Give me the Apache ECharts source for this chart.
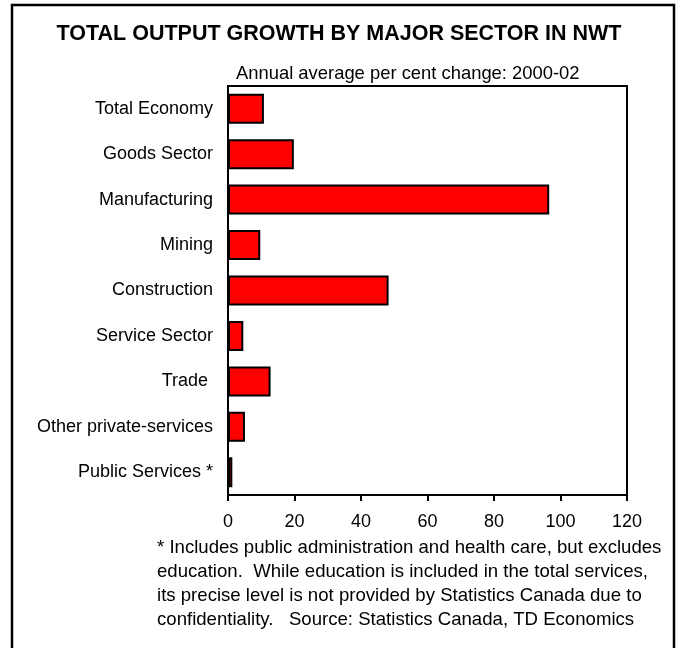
<!DOCTYPE html>
<html>
<head>
<meta charset="utf-8">
<script src="https://cdn.jsdelivr.net/npm/echarts@6/dist/echarts.min.js"></script>
<style>
  html, body { margin: 0; padding: 0; background: #fff; }
  #chart { width: 678px; height: 648px; }
</style>
</head>
<body>
<div id="chart"></div>
<script>
// Sectors, top to bottom
const sectors = [
  'Total Economy',
  'Goods Sector',
  'Manufacturing',
  'Mining',
  'Construction',
  'Service Sector',
  'Trade ',
  'Other private-services',
  'Public Services *'
];

// Annual average per cent change, 2000-02
const growth = [10.8, 19.8, 96.6, 9.7, 48.3, 4.6, 12.8, 5.1, 1.3];

// Value axis ticks
const axisMin = 0;
const axisMax = 120;
const axisStep = 20;

const titleText = 'TOTAL OUTPUT GROWTH BY MAJOR SECTOR IN NWT';
const subtitleText = 'Annual average per cent change: 2000-02';
const footnoteLines = [
  '* Includes public administration and health care, but excludes',
  'education.  While education is included in the total services,',
  'its precise level is not provided by Statistics Canada due to',
  'confidentiality.   Source: Statistics Canada, TD Economics'
];

const FONT = 'Liberation Sans, Arial, Helvetica, sans-serif';

const chart = echarts.init(document.getElementById('chart'), null, { renderer: 'canvas' });

const footnoteGraphics = footnoteLines.map((line, i) => ({
  type: 'text',
  left: 157,
  top: 538 + i * 24,
  style: { text: line, font: '18.6px ' + FONT, fill: '#000' }
}));

chart.setOption({
  backgroundColor: '#fff',
  animation: false,
  title: {
    text: titleText,
    left: 'center',
    top: 18,
    textStyle: { fontFamily: FONT, fontSize: 21.5, fontWeight: 'bold', color: '#000' }
  },
  grid: {
    left: 228,
    right: 51,
    top: 86,
    bottom: 153,
    show: true,
    borderColor: '#000',
    borderWidth: 2,
    backgroundColor: 'transparent'
  },
  xAxis: {
    type: 'value',
    min: axisMin,
    max: axisMax,
    interval: axisStep,
    splitLine: { show: false },
    axisLine: { show: true, lineStyle: { color: '#000', width: 2 } },
    axisTick: { show: true, inside: false, length: 6, lineStyle: { color: '#000', width: 2 } },
    axisLabel: { margin: 18, color: '#000', fontFamily: FONT, fontSize: 18 }
  },
  yAxis: {
    type: 'category',
    data: sectors,
    inverse: true,
    axisLine: { show: true, lineStyle: { color: '#000', width: 2 } },
    axisTick: { show: false },
    axisLabel: { margin: 15, color: '#000', fontFamily: FONT, fontSize: 18 }
  },
  series: [{
    type: 'bar',
    data: growth,
    barCategoryGap: '34%',
    itemStyle: { color: '#FF0000', borderColor: '#000', borderWidth: 2 }
  }],
  graphic: [
    {
      type: 'rect',
      shape: { x: 12, y: 5, width: 662, height: 650 },
      style: { fill: 'none', stroke: '#000', lineWidth: 2.5 },
      silent: true
    },
    {
      type: 'text',
      left: 236,
      top: 65,
      style: { text: subtitleText, font: '18.4px ' + FONT, fill: '#000' }
    }
  ].concat(footnoteGraphics)
});
</script>
</body>
</html>
